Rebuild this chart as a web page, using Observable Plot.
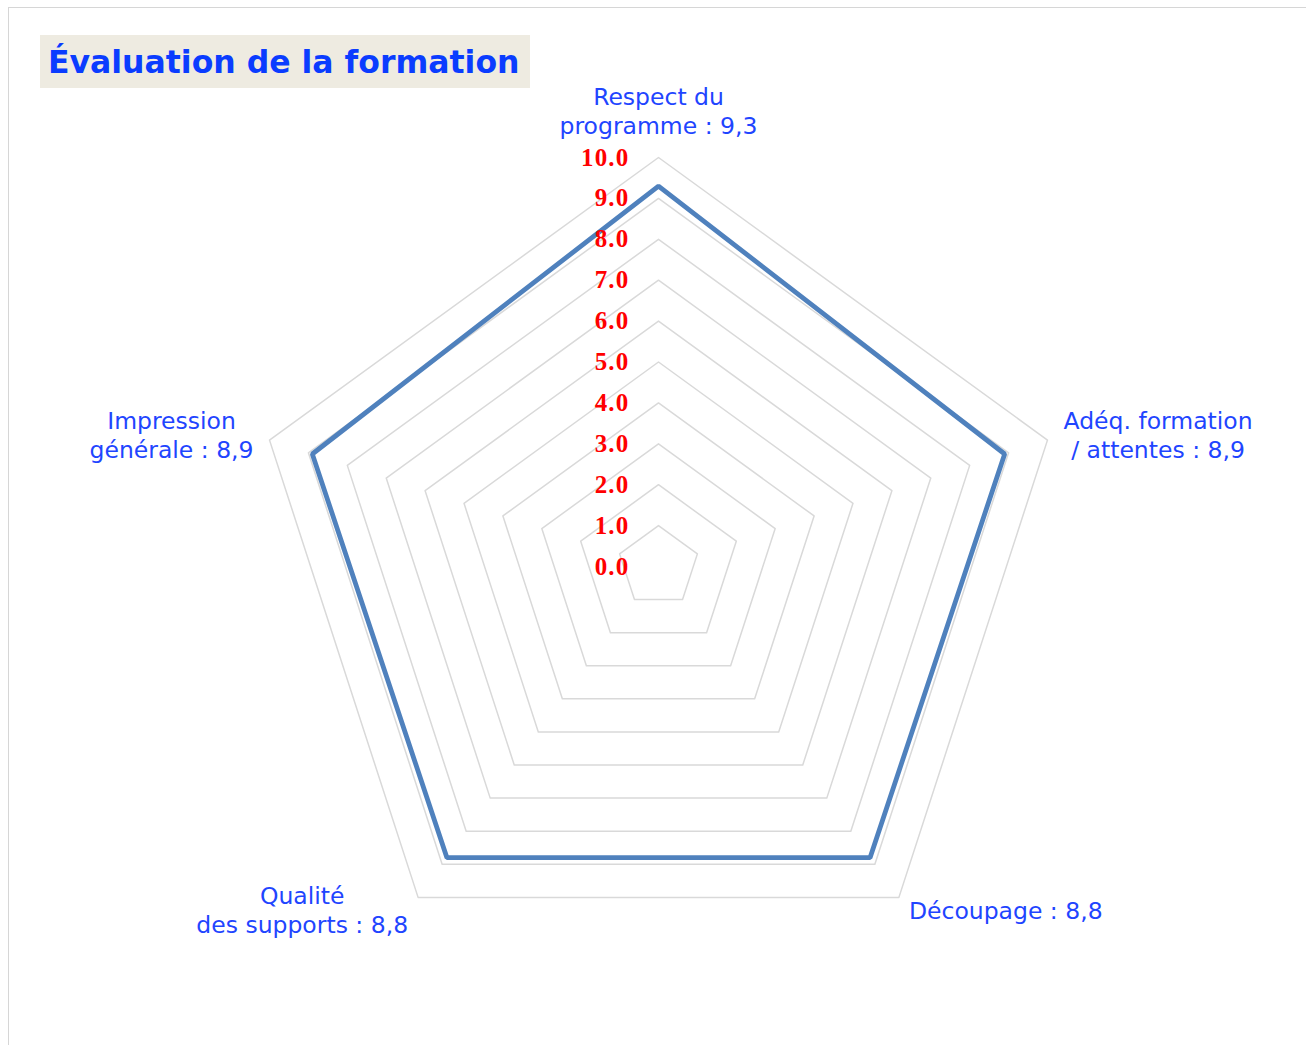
<!DOCTYPE html>
<html><head><meta charset="utf-8">
<script src="https://cdn.jsdelivr.net/npm/d3@7"></script>
<script src="https://cdn.jsdelivr.net/npm/@observablehq/plot@0.6"></script>
<style>
body{margin:0;background:#fff;}
#wrap{position:relative;width:1306px;height:1045px;overflow:hidden;}
#frame{position:absolute;left:8px;top:7px;width:1400px;height:1100px;border-top:1.5px solid #d6d6d6;border-left:1.5px solid #d6d6d6;}
#chart{position:absolute;left:0;top:0;}
#title{position:absolute;left:40px;top:35px;width:490px;height:53px;background:#eeebe1;color:#0a3cff;font-family:"DejaVu Sans";font-weight:bold;font-size:31.5px;line-height:55px;padding-left:8px;box-sizing:border-box;white-space:nowrap;}
</style>
</head><body>
<div id="wrap"><div id="frame"></div><div id="chart"></div><div id="title">Évaluation de la formation</div></div>
<script>
const axisLabels = ["Respect du\nprogramme : 9,3", "Adéq. formation\n/ attentes : 8,9", "Découpage : 8,8", "Qualité\ndes supports : 8,8", "Impression\ngénérale : 8,9"];
const scores = [9.3, 8.9, 8.8, 8.8, 8.9];
const tickValues = [0,1,2,3,4,5,6,7,8,9,10];
const tickLabels = ["0.0","1.0","2.0","3.0","4.0","5.0","6.0","7.0","8.0","9.0","10.0"];

const W = 1306, H = 1045, cx = 658, cy = 566, unit = 40.9;
const n = axisLabels.length;
const ang = i => Math.PI/2 - i*2*Math.PI/n;
const pt = (i, r) => ({x: r*Math.cos(ang(i)), y: r*Math.sin(ang(i))});

const rings = [];
tickValues.filter(t => t > 0).forEach(t => { for (let i=0;i<n;i++) rings.push({ring:t, ...pt(i,t)}); });
const series = scores.map((v,i) => pt(i,v));

const fs = 23.5;
const ctx = document.createElement("canvas").getContext("2d");
ctx.font = fs + "px 'DejaVu Sans'";
const lh = 29;
const rMax = tickValues[tickValues.length-1];
const labelData = axisLabels.map((t,i) => {
  const lines = t.split("\n");
  const w = Math.max(...lines.map(l => ctx.measureText(l).width));
  const h = lines.length*lh;
  const c = Math.cos(ang(i)), s = Math.sin(ang(i));
  const v = pt(i, rMax);
  let dx = 0, dy = 0;
  if (Math.abs(c) < 0.1) { dy = (18 + h/2); }
  else if (s > -0.5) { dx = Math.sign(c)*(16 + w/2); dy = 6; }
  else { dx = Math.sign(c)*(10 + w/2); dy = -12; }
  return {x: v.x + dx/unit, y: v.y + dy/unit, text: t};
});

const chart = Plot.plot({
  width: W, height: H, margin: 0,
  x: {domain: [-cx/unit, (W-cx)/unit], axis: null},
  y: {domain: [(cy-H)/unit, cy/unit], axis: null},
  style: {background: "transparent"},
  marks: [
    Plot.line(rings, {x:"x", y:"y", z:"ring", curve:"linear-closed", stroke:"#d9d9d9", strokeWidth:1.5}),
    Plot.line(series, {x:"x", y:"y", curve:"linear-closed", stroke:"#4f81bd", strokeWidth:4.8, strokeLinejoin:"miter"}),
    Plot.text(tickValues, {x: () => 0, y: d => d, text: (d,i) => tickLabels[i], textAnchor:"end", dx:-29, fill:"#ff0000", fontWeight:"bold", fontFamily:"Liberation Serif", fontSize:25}),
    Plot.text(labelData, {x:"x", y:"y", text:"text", textAnchor:"middle", lineAnchor:"middle", lineHeight: lh/fs, fontSize: fs, fontFamily:"DejaVu Sans", fill:"#1f45ff"})
  ]
});
chart.querySelectorAll('g[font-family="Liberation Serif"]').forEach(g => g.setAttribute("letter-spacing", "1.2"));
document.getElementById("chart").appendChild(chart);
</script>
</body></html>
